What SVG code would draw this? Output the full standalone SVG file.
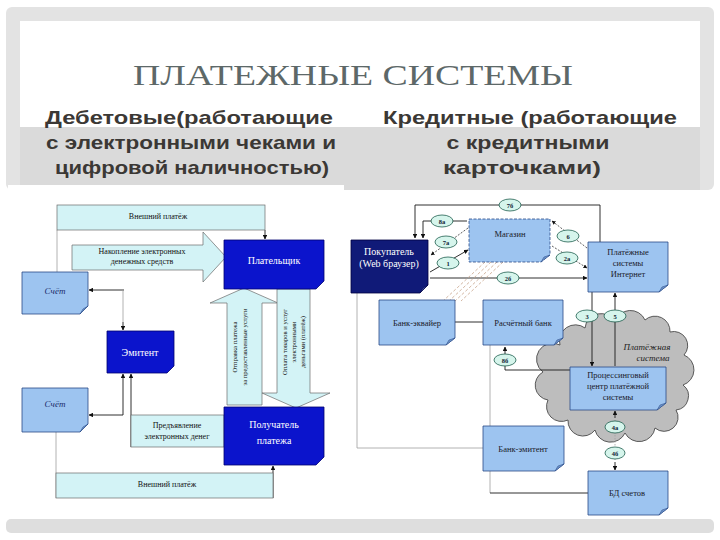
<svg xmlns="http://www.w3.org/2000/svg" width="720" height="540" viewBox="0 0 720 540">
<defs>
<style>
.cy{fill:#d3f3f6;stroke:#6a6a6a;stroke-width:0.7}
.db{fill:#0b14cc;stroke:#000070;stroke-width:0.8}
.nv{fill:#101a78;stroke:#000040;stroke-width:0.8}
.lb{fill:#9dc4f0;stroke:#2a4a86;stroke-width:0.8}
.fold{fill:#6d93c9;stroke:#2a4a86;stroke-width:0.5}
.ln{stroke:#1a1a1a;stroke-width:0.9;fill:none}
.dl{stroke:#333;stroke-width:0.8;fill:none;stroke-dasharray:2,1.5}
.gl{stroke:#a0a0a0;stroke-width:0.8;fill:none}
.ht{stroke:#c8a58c;stroke-width:0.8;fill:none;stroke-dasharray:3,2}
.ov{fill:#d6f5ec;stroke:#1f5f4f;stroke-width:0.8}
.t8{font-family:"Liberation Serif",serif;font-size:8px;fill:#111;text-anchor:middle}
.t7{font-family:"Liberation Serif",serif;font-size:6.6px;fill:#111;text-anchor:middle}
.tw{font-family:"Liberation Serif",serif;font-size:10px;fill:#fff;text-anchor:middle}
.tr{font-family:"Liberation Serif",serif;font-size:8.5px;fill:#1a1a2a;text-anchor:middle}
.to{font-family:"Liberation Serif",serif;font-size:6.5px;font-weight:bold;fill:#123;text-anchor:middle}
.sub{font-family:"Liberation Sans",Arial,sans-serif;font-size:19px;font-weight:bold;fill:#3b3835;text-anchor:middle}
</style>
<marker id="ah" viewBox="0 0 10 10" refX="9" refY="5" markerWidth="5" markerHeight="5" orient="auto-start-reverse"><path d="M0 0 L10 5 L0 10 z" fill="#111"/></marker>
</defs>

<!-- slide frame -->
<rect x="6" y="7" width="708" height="183" rx="6" fill="#e3e3e3"/>
<rect x="20" y="21" width="680" height="106" fill="#ffffff"/>
<rect x="20" y="127" width="680" height="63" fill="#dadada"/>
<rect x="6" y="519" width="708" height="14" rx="5" fill="#dedede"/>
<rect x="8" y="185" width="336" height="334" fill="#ffffff"/>
<rect x="344" y="190" width="368" height="329" fill="#ffffff"/>

<text x="353" y="85" font-family="Liberation Serif,serif" font-size="30" fill="#5d6868" text-anchor="middle" textLength="440" lengthAdjust="spacingAndGlyphs">ПЛАТЕЖНЫЕ СИСТЕМЫ</text>
<text class="sub" x="189" y="124" textLength="288" lengthAdjust="spacingAndGlyphs">Дебетовые(работающие</text>
<text class="sub" x="191" y="149" textLength="290" lengthAdjust="spacingAndGlyphs">с электронными чеками и</text>
<text class="sub" x="192" y="174" textLength="274" lengthAdjust="spacingAndGlyphs">цифровой наличностью)</text>
<text class="sub" x="530" y="124" textLength="294" lengthAdjust="spacingAndGlyphs">Кредитные (работающие</text>
<text class="sub" x="528" y="149" textLength="163" lengthAdjust="spacingAndGlyphs">с кредитными</text>
<text class="sub" x="522" y="174" textLength="158" lengthAdjust="spacingAndGlyphs">карточками)</text>

<!-- LEFT DIAGRAM connectors -->
<g id="connectors-left">
<path class="ln" d="M265 230 V239" marker-end="url(#ah)"/>
<path class="gl" d="M57 230 V272"/>
<path class="ln" d="M124 290 H89" marker-end="url(#ah)"/>
<path class="gl" d="M123 290 V322"/>
<path class="ln" d="M123 322 V330" marker-end="url(#ah)"/>
<path class="ln" d="M131 447 V374" marker-end="url(#ah)"/>
<path class="ln" d="M123 415 V374" marker-end="url(#ah)"/>
<path class="ln" d="M123 415 H89" marker-end="url(#ah)"/>
<path class="gl" d="M56 432 V498"/>
<path class="ln" d="M273 498 V466" marker-end="url(#ah)"/>
</g>

<g id="band-top"><rect class="cy" x="57" y="205" width="208" height="25"/><text class="t8" x="158" y="219">Внешний платёж</text></g>
<g id="arrow-accum">
<polygon class="cy" points="72,245 203,245 203,232 226,257 203,282 203,270 72,270"/>
<text class="t8" x="142" y="254">Накопление электронных</text>
<text class="t8" x="142" y="264">денежных средств</text>
</g>
<g id="arrow-up">
<polygon class="cy" points="227,405 227,303 210,303 244,288 278,303 262,303 262,405"/>
<text class="t7" transform="translate(237,347) rotate(-90)">Отправка платежа</text>
<text class="t7" transform="translate(247,347) rotate(-90)">за предоставленные услуги</text>
</g>
<g id="arrow-down">
<polygon class="cy" points="277,289 310,289 310,393 330,393 296,408 262,393 277,393"/>
<text class="t7" transform="translate(287,342) rotate(-90)">Оплата товаров и услуг</text>
<text class="t7" transform="translate(296,342) rotate(-90)">электронными</text>
<text class="t7" transform="translate(305,342) rotate(-90)">деньгами (платёж)</text>
</g>
<g id="payer"><path class="db" d="M224 240 H324 V281 L316 289 H224 Z"/><text class="tw" x="274" y="264">Плательщик</text></g>
<g id="acct-top"><path class="lb" d="M22 272 H88 V306 L80 314 H22 Z"/><path class="fold" d="M80 314 L83 309 L88 306 Z"/><text x="55" y="294" font-family="Liberation Serif,serif" font-size="9" font-style="italic" fill="#1a2a6a" text-anchor="middle">Счёт</text></g>
<g id="emitent"><path class="db" d="M107 331 H174 V366 L167 373 H107 Z"/><text class="tw" x="140" y="356">Эмитент</text></g>
<g id="acct-bottom"><path class="lb" d="M22 388 H88 V424 L80 432 H22 Z"/><path class="fold" d="M80 432 L83 427 L88 424 Z"/><text x="55" y="407" font-family="Liberation Serif,serif" font-size="9" font-style="italic" fill="#1a2a6a" text-anchor="middle">Счёт</text></g>
<g id="band-present"><rect class="cy" x="131" y="415" width="93" height="32"/><text class="t8" x="177" y="428">Предъявление</text><text class="t8" x="177" y="439">электронных денег</text></g>
<g id="receiver"><path class="db" d="M224 407 H324 V457 L316 465 H224 Z"/><text class="tw" x="274" y="428">Получатель</text><text class="tw" x="274" y="444">платежа</text></g>
<g id="band-bottom"><rect class="cy" x="56" y="473" width="217" height="25"/><text class="t8" x="167" y="487">Внешний платёж</text></g>

<!-- RIGHT DIAGRAM -->
<g id="cloud"><path d="M560 345 A16 16 0 0 1 585 328 A16 16 0 0 1 615 322 A16 16 0 0 1 645 320 A15 15 0 0 1 670 332 A14 14 0 0 1 684 355 A16 16 0 0 1 683 385 A14 14 0 0 1 676 410 A14 14 0 0 1 655 428 A16 16 0 0 1 625 433 A16 16 0 0 1 595 430 A15 15 0 0 1 568 420 A15 15 0 0 1 548 400 A15 15 0 0 1 543 372 A16 16 0 0 1 560 345 Z" fill="#bdbdbd" stroke="#4a4a4a" stroke-width="0.9"/>
<text x="647" y="350" font-family="Liberation Serif,serif" font-size="9" font-style="italic" fill="#222" text-anchor="middle">Платёжная</text>
<text x="653" y="361" font-family="Liberation Serif,serif" font-size="9" font-style="italic" fill="#222" text-anchor="middle">система</text></g>

<g id="connectors-right">
<path class="gl" d="M357 293 V448 H483"/>
<path class="gl" d="M490 345 V426"/>
<path class="gl" d="M490 471 V493"/>
<path class="ln" d="M490 493 H588"/>
<path class="ln" d="M600 242 V205 H415 V238" marker-end="url(#ah)"/>
<path class="ln" d="M467 221 H423 V238" marker-end="url(#ah)"/>
<path class="dl" d="M468 228 L431 255" marker-end="url(#ah)"/>
<path class="ln" d="M430 272 L468 250" marker-end="url(#ah)"/>
<path class="dl" d="M587 248 L552 221" marker-end="url(#ah)"/>
<path class="dl" d="M552 246 L587 268" marker-end="url(#ah)"/>
<path class="ln" d="M430 278 H587" marker-end="url(#ah)"/>
<path class="ht" d="M485 262 L443 301"/>
<path class="ht" d="M491 262 L449 301"/>
<path class="ht" d="M497 262 L455 301"/>
<path class="ht" d="M503 262 L461 301"/>
<path class="ln" d="M455 322 H483"/>
<path class="ln" d="M570 370 H505 V347" marker-end="url(#ah)"/>
<path class="ln" d="M592 292 V366" marker-end="url(#ah)"/>
<path class="ln" d="M615 366 V293" marker-end="url(#ah)"/>
<path class="gl" d="M615 420 V460" stroke-dasharray="1.5,1.5"/>
<path class="ln" d="M615 418 V411" marker-end="url(#ah)"/>
<path class="ln" d="M615 462 V470" marker-end="url(#ah)"/>
<ellipse class="ov" cx="510" cy="205" rx="11" ry="6"/><text class="to" x="510" y="207.5">7б</text>
<ellipse class="ov" cx="442" cy="221" rx="11" ry="6"/><text class="to" x="442" y="223.5">8а</text>
<ellipse class="ov" cx="446" cy="242" rx="11" ry="6"/><text class="to" x="446" y="244.5">7а</text>
<ellipse class="ov" cx="448" cy="263" rx="11" ry="6"/><text class="to" x="448" y="265.5">1</text>
<ellipse class="ov" cx="568" cy="236" rx="11" ry="6"/><text class="to" x="568" y="238.5">6</text>
<ellipse class="ov" cx="567" cy="258" rx="11" ry="6"/><text class="to" x="567" y="260.5">2а</text>
<ellipse class="ov" cx="508" cy="278" rx="11" ry="6"/><text class="to" x="508" y="280.5">2б</text>
<ellipse class="ov" cx="587" cy="316" rx="11" ry="6"/><text class="to" x="587" y="318.5">3</text>
<ellipse class="ov" cx="615" cy="316" rx="11" ry="6"/><text class="to" x="615" y="318.5">5</text>
<ellipse class="ov" cx="505" cy="360" rx="11" ry="6"/><text class="to" x="505" y="362.5">8б</text>
<ellipse class="ov" cx="615" cy="427" rx="10" ry="6"/><text class="to" x="615" y="429.5">4а</text>
<ellipse class="ov" cx="615" cy="453" rx="10" ry="6"/><text class="to" x="615" y="455.5">4б</text>
</g>

<g id="buyer"><path class="nv" d="M351 240 H428 V285 L420 293 H351 Z"/><path d="M420 293 L423 288 L428 285 Z" fill="#4a5aa8" stroke="#000040" stroke-width="0.5"/><text class="tw" x="389" y="255" font-size="9">Покупатель</text><text class="tw" x="389" y="267" font-size="9">(Web браузер)</text></g>
<g id="shop"><path class="lb" d="M469 219 H550 V255 L541 262 H469 Z" stroke-dasharray="3,1.5"/><path class="fold" d="M541 262 L544 257 L550 255 Z"/><text class="tr" x="510" y="237">Магазин</text></g>
<g id="ps-internet"><path class="lb" d="M588 242 H668 V285 L659 292 H588 Z"/><path class="fold" d="M659 292 L662 287 L668 285 Z"/><text class="tr" x="628" y="255">Платёжные</text><text class="tr" x="628" y="266">системы</text><text class="tr" x="628" y="277">Интернет</text></g>
<g id="acquirer"><path class="lb" d="M379 300 H455 V338 L446 345 H379 Z"/><path class="fold" d="M446 345 L449 340 L455 338 Z"/><text class="tr" x="417" y="326">Банк-эквайер</text></g>
<g id="settle-bank"><path class="lb" d="M483 300 H563 V338 L554 345 H483 Z"/><path class="fold" d="M554 345 L557 340 L563 338 Z"/><text class="tr" x="523" y="326">Расчётный банк</text></g>
<g id="processing"><path class="lb" d="M570 367 H666 V403 L657 410 H570 Z"/><path class="fold" d="M657 410 L660 405 L666 403 Z"/><text class="tr" x="618" y="378">Процессинговый</text><text class="tr" x="618" y="389">центр платёжной</text><text class="tr" x="618" y="400">системы</text></g>
<g id="issuer"><path class="lb" d="M483 426 H564 V464 L555 471 H483 Z"/><path class="fold" d="M555 471 L558 466 L564 464 Z"/><text class="tr" x="523" y="452">Банк-эмитент</text></g>
<g id="db"><path class="lb" d="M588 471 H668 V508 L659 515 H588 Z"/><path class="fold" d="M659 515 L662 510 L668 508 Z"/><text class="tr" x="627" y="496">БД счетов</text></g>
</svg>
